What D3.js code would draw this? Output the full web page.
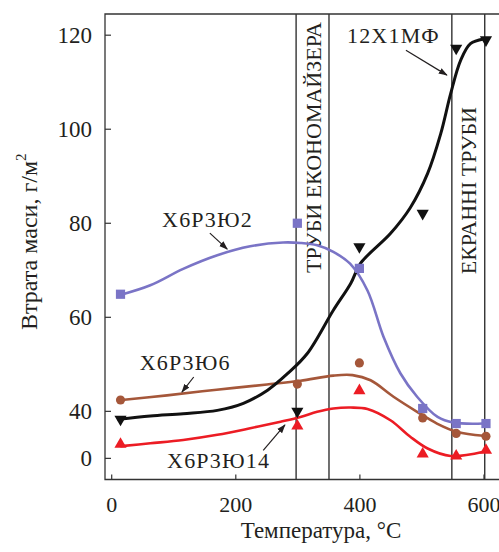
<!DOCTYPE html>
<html><head><meta charset="utf-8">
<script src="https://cdn.jsdelivr.net/npm/d3@7"></script>
<style>
html,body{margin:0;padding:0;background:#fff;}
svg{display:block;font-family:"Liberation Serif","Times New Roman",serif;}
</style></head>
<body><svg id="chart" width="499" height="552" font-family="Liberation Serif"></svg>
<script>
// ---- data (axis units; y axis is broken: the "0" label sits at 30) ----
const xTickValues = [0, 200, 400, 600];
const yTickValues = [30, 40, 60, 80, 100, 120];
const yTickLabels = ["0", "40", "60", "80", "100", "120"];

const temps = [15, 300, 400, 502, 556, 604];
const seriesNames = ["Х6Р3Ю2", "Х6Р3Ю6", "12Х1МФ", "Х6Р3Ю14"];
const valsX6R3Yu2  = [64.8, 79.9, 70.3, 40.5, 37.3, 37.3];
const valsX6R3Yu6  = [42.3, 45.7, 50.2, 38.5, 35.2, 34.6];
const vals12X1MF   = [38.2, 39.9, 74.9, 82.0, 117.1, 118.9];
const valsX6R3Yu14 = [32.9, 36.8, 44.3, 30.8, 30.4, 31.6];

// fitted curves as drawn in the picture
const fitX6R3Yu2T  = [16, 63, 116, 171, 224, 277, 305, 332, 358, 385, 413, 439, 466, 493, 526, 552, 600];
const fitX6R3Yu2V  = [64.7, 66.7, 70.2, 73.1, 75.0, 75.8, 75.7, 75.2, 73.8, 71.3, 65.6, 55.7, 48.0, 43.0, 38.7, 37.5, 37.3];
const fitX6R3Yu6T  = [17, 90, 170, 251, 305, 358, 389, 418, 455, 493, 525, 558, 600];
const fitX6R3Yu6V  = [42.3, 43.3, 44.5, 45.6, 46.4, 47.5, 47.6, 46.5, 43.0, 39.8, 37.3, 35.5, 34.7];
const fit12X1MFT   = [12, 63, 116, 171, 213, 252, 284, 316, 358, 386, 402, 450, 482, 510, 531, 547, 563, 579, 600];
const fit12X1MFV   = [38.2, 38.9, 39.4, 40.1, 41.6, 44.4, 47.9, 52.2, 61.4, 67.1, 71.4, 77.7, 83.2, 90.5, 98.9, 107.4, 114.5, 118.1, 119.1];
const fitX6R3Yu14T = [16, 63, 116, 171, 224, 273, 305, 332, 358, 386, 413, 450, 482, 510, 547, 600];
const fitX6R3Yu14V = [32.5, 33.1, 33.8, 34.9, 36.3, 37.7, 38.7, 39.8, 40.5, 40.7, 40.4, 38.0, 34.5, 32.0, 30.4, 31.3];

const bandEdges = [298, 351, 549, 602];
const bandLabels = ["ТРУБИ ЕКОНОМАЙЗЕРА", "ЕКРАННІ ТРУБИ"];
const xTitle = "Температура, °C";
const yTitle = "Втрата маси, г/м";
const yTitleSup = "2";

// annotation label anchors and arrows (axis units)
const labelT = [82, 46, 380, 90];
const labelV = [79.1, 48.7, 118.2, 27.8];
const arrowFromT = [159, 133, 475, 245];
const arrowFromV = [77.8, 47.2, 116.7, 31.6];
const arrowToT = [187, 114, 541, 280];
const arrowToV = [74.4, 44.0, 111.4, 37.0];

// ---- drawing ----
const svg = d3.select("#chart");
const x = d3.scaleLinear().domain([-10, 625]).range([105, 499]);
const y = d3.scaleLinear().domain([25.4, 124.4]).range([479.5, 14]);
const ink = "#231f20";
const serif = "Liberation Serif";
const colors = ["#7a74c6", "#a5573a", "#111111", "#ec1c24"];

// frame
const [x0, x1] = x.range(), [yb, yt] = y.range();
svg.append("path").attr("d", `M${x1},${yt}H${x0}V${yb}H${x1}`)
  .attr("fill", "none").attr("stroke", "#333").attr("stroke-width", 1.3);

// axes
const xAxis = d3.axisBottom(x).tickValues(xTickValues).tickSizeInner(-5).tickSizeOuter(0).tickPadding(17);
const gx = svg.append("g").attr("transform", `translate(0,${yb})`).call(xAxis).attr("font-family", serif);
gx.select(".domain").remove();
gx.selectAll("line").attr("stroke", "#333").attr("stroke-width", 1.2);
gx.selectAll("text").attr("font-size", 22).attr("fill", ink);

const yAxis = d3.axisLeft(y).tickValues(yTickValues).tickFormat((d, i) => yTickLabels[i])
  .tickSizeInner(-6).tickSizeOuter(0).tickPadding(13);
const gy = svg.append("g").attr("transform", `translate(${x0},0)`).call(yAxis).attr("font-family", serif);
gy.select(".domain").remove();
gy.selectAll("line").attr("stroke", "#333").attr("stroke-width", 1.2);
gy.selectAll("text").attr("font-size", 23).attr("fill", ink);

// titles
svg.append("text").attr("x", 321).attr("y", 538).attr("text-anchor", "middle")
  .attr("font-size", 23).attr("fill", ink).text(xTitle);
const yt2 = svg.append("text").attr("transform", "translate(37,330) rotate(-90)")
  .attr("font-size", 24).attr("fill", ink);
yt2.append("tspan").text(yTitle);
yt2.append("tspan").attr("dy", -11).attr("font-size", 15).text(yTitleSup);

// bands
svg.append("g").selectAll("line").data(bandEdges).join("line")
  .attr("x1", d => x(d)).attr("x2", d => x(d)).attr("y1", yt).attr("y2", yb)
  .attr("stroke", "#333").attr("stroke-width", 1.4);
const bandMid = [(x(bandEdges[0]) + x(bandEdges[1])) / 2, (x(bandEdges[2]) + x(bandEdges[3])) / 2];
const bandTop = [22, 107];
bandLabels.forEach((t, i) => {
  svg.append("text").attr("transform", `translate(${bandMid[i] + 8},${bandTop[i]}) rotate(-90)`)
    .attr("text-anchor", "end").attr("font-size", 22).attr("fill", ink).text(t);
});

// fitted curves
const fits = [[fitX6R3Yu2T, fitX6R3Yu2V], [fitX6R3Yu6T, fitX6R3Yu6V], [fit12X1MFT, fit12X1MFV], [fitX6R3Yu14T, fitX6R3Yu14V]];
const line = d3.line().x(d => x(d[0])).y(d => y(d[1])).curve(d3.curveCatmullRom.alpha(0.5));
fits.forEach((f, i) => {
  svg.append("path").datum(f[0].map((t, j) => [t, f[1][j]]))
    .attr("d", line).attr("fill", "none").attr("stroke", colors[i])
    .attr("stroke-width", i === 2 ? 3 : 2.6).attr("stroke-linecap", "round");
});

// markers
const vals = [valsX6R3Yu2, valsX6R3Yu6, vals12X1MF, valsX6R3Yu14];
const shapes = [d3.symbol(d3.symbolSquare, 85), d3.symbol(d3.symbolCircle, 66),
                d3.symbol(d3.symbolTriangle, 64), d3.symbol(d3.symbolTriangle, 64)];
vals.forEach((v, i) => {
  svg.append("g").selectAll("path").data(v).join("path")
    .attr("d", shapes[i])
    .attr("transform", (d, j) => `translate(${x(temps[j])},${y(d)})${i === 2 ? " rotate(180)" : ""}`)
    .attr("fill", colors[i]);
});

// labels and arrows
const defs = svg.append("defs");
defs.append("marker").attr("id", "ah").attr("viewBox", "0 0 10 10").attr("refX", 9).attr("refY", 5)
  .attr("markerWidth", 9).attr("markerHeight", 9).attr("markerUnits", "userSpaceOnUse").attr("orient", "auto")
  .append("path").attr("d", "M0,1.5L10,5L0,8.5Z").attr("fill", ink);
seriesNames.forEach((n, i) => {
  svg.append("text").attr("x", x(labelT[i])).attr("y", y(labelV[i]))
    .attr("font-size", 22).attr("letter-spacing", 1.2).attr("fill", ink).text(n);
  svg.append("line").attr("x1", x(arrowFromT[i])).attr("y1", y(arrowFromV[i]))
    .attr("x2", x(arrowToT[i])).attr("y2", y(arrowToV[i]))
    .attr("stroke", ink).attr("stroke-width", 1.2).attr("marker-end", "url(#ah)");
});
</script></body></html>
